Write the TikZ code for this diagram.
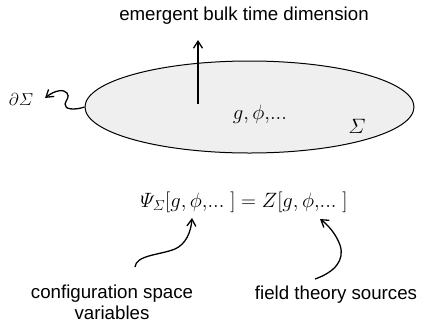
\documentclass[tikz,border=0pt]{standalone}
\usepackage{amsmath}
\usepackage{fontspec}
\setsansfont{Liberation Sans}
\usetikzlibrary{shapes.geometric,arrows.meta}
\begin{document}
\begin{tikzpicture}[x=1pt,y=-1pt,
  lbl/.style={font=\sffamily\fontsize{18.7}{22}\selectfont, inner sep=0pt},
  mth/.style={font=\fontsize{20}{24}\selectfont, inner sep=0pt},
  arr/.style={line width=1.3pt, -{Straight Barb[length=7pt,width=9pt]}}]
\useasboundingbox (0,0) rectangle (425,325);
\node[ellipse, draw, line width=1pt, fill={rgb,255:red,239;green,239;blue,239},
  minimum width=329pt, minimum height=92pt, inner sep=0pt] (surf) at (249.5,107) {};
\node[lbl] (top) at (244,16) {emergent bulk time dimension};
\coordinate (up0) at (198,104);
\coordinate (up1) at (198,40);
\draw[arr] (up0) -- (up1);
\node[mth] (fields) at (260,114) {$g,\phi,\!...$};
\node[mth] (sig) at (357,126) {$\varSigma$};
\node[mth, font=\fontsize{18}{22}\selectfont] (bd) at (21,99) {$\partial\varSigma$};
\coordinate (wtip) at (45,98);
\draw[arr] (surf.west) .. controls (76,110) and (64,110) .. (65,104)
  .. controls (66,100) and (70,97) .. (67,93)
  .. controls (64,89) and (55,90) .. (wtip);
\node[mth, font=\fontsize{21}{25}\selectfont] (eq) at (244,202) {$\varPsi_{\varSigma}[g,\phi,\!...\;]=Z[g,\phi,\!...\;]$};
\coordinate (a1s) at (135,267);
\coordinate (a1t) at (192,218);
\coordinate (a2s) at (315,279);
\coordinate (a2t) at (320,219);
\draw[arr] (a1s) .. controls (136,255) and (160,255) .. (175,249)
  .. controls (186,244) and (191,232) .. (a1t);
\draw[arr] (a2s) .. controls (335,272) and (345,260) .. (340,245)
  .. controls (336,234) and (328,225) .. (a2t);
\node[lbl, align=center] (cfg) at (112,302) {configuration space\\[-1pt]variables};
\node[lbl] (src) at (336,295) {field theory sources};
\end{tikzpicture}
\end{document}
